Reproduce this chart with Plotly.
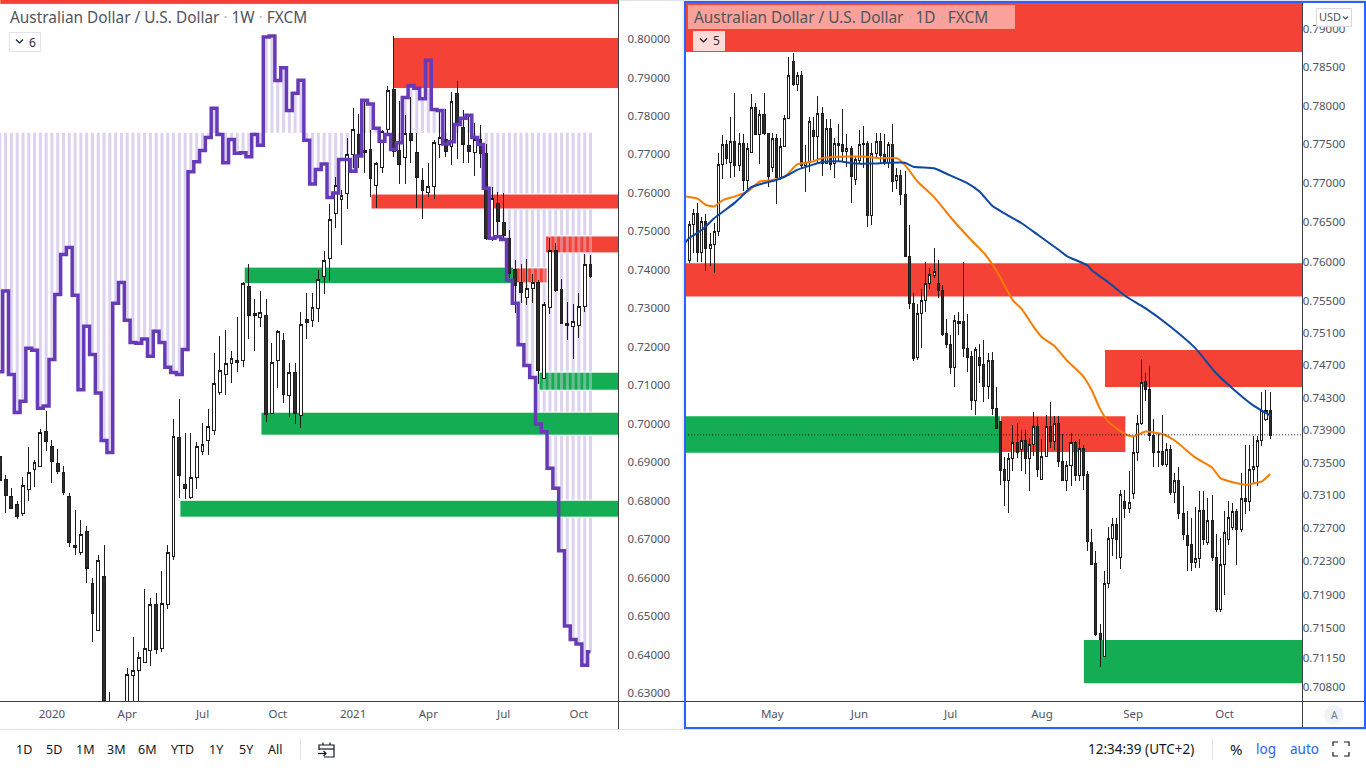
import math
import plotly.graph_objects as go

# ---------- weekly AUD/USD (left pane) ----------
wk_top = [.6914,.6856,.6812,.6791,.6840,.6873,.6899,.6977,.6980,.6941,.6897,.6873,.6812,.6684,.6712,.6721,.6585,.6645,.6603,.6250,.6130,.6200,.6348,.6358,.6391,.6416,.6530,.6530,.6532,.6664,.6967,.6964,.6841,.6860,.6941,.6946,.6993,.7105,.7139,.7157,.7170,.7165,.7365,.7357,.7287,.7290,.7282,.7159,.7240,.7217,.7133,.7133,.7258,.7271,.7303,.7375,.7425,.7531,.7620,.7594,.7699,.7764,.7752,.7711,.7713,.7677,.7759,.7867,.7869,.7711,.7754,.7755,.7705,.7633,.7616,.7730,.7744,.7738,.7838,.7859,.7769,.7724,.7739,.7739,.7703,.7585,.7573,.7523,.7482,.7402,.7367,.7351,.7367,.7367,.7310,.7451,.7451,.7349,.7261,.7266,.7304,.7414,.7414]
wk_bottom = [.6853,.6814,.6779,.6758,.6766,.6828,.6880,.6888,.6953,.6901,.6875,.6820,.6691,.6677,.6665,.6623,.6507,.6462,.6150,.5850,.5900,.6130,.6200,.6346,.6359,.6380,.6410,.6413,.6416,.6530,.6655,.6865,.6831,.6807,.6859,.6927,.6956,.6982,.7080,.7128,.7157,.7158,.7165,.7281,.7281,.7276,.7023,.7027,.7165,.7075,.7073,.7027,.7022,.7262,.7269,.7300,.7382,.7430,.7547,.7583,.7599,.7699,.7698,.7705,.7637,.7620,.7666,.7764,.7707,.7673,.7692,.7737,.7639,.7606,.7600,.7616,.7725,.7707,.7720,.7779,.7725,.7708,.7705,.7703,.7481,.7479,.7525,.7490,.7391,.7360,.7340,.7328,.7352,.7139,.7118,.7301,.7347,.7261,.7255,.7253,.7256,.7304,.7382]
wk_high = [.6926,.6866,.6834,.6799,.6861,.6939,.6905,.6986,.7033,.6957,.6934,.6890,.6820,.6776,.6749,.6734,.6598,.6658,.6684,.6302,.6200,.6260,.6366,.6445,.6406,.6570,.6546,.6561,.6617,.6684,.7012,.7064,.6976,.6976,.6952,.7002,.7038,.7184,.7228,.7243,.7189,.7277,.7368,.7415,.7323,.7345,.7323,.7210,.7243,.7236,.7158,.7158,.7290,.7340,.7340,.7399,.7449,.7570,.7640,.7607,.7743,.7821,.7805,.7841,.7763,.7679,.7763,.7878,.8008,.7839,.7802,.7849,.7755,.7664,.7677,.7737,.7815,.7817,.7861,.7891,.7815,.7802,.7782,.7776,.7727,.7616,.7603,.7599,.7503,.7426,.7415,.7428,.7389,.7373,.7316,.7483,.7469,.7376,.7316,.7311,.7340,.7441,.7438]
wk_low = [.6848,.6768,.6779,.6753,.6761,.6799,.6835,.6888,.6929,.6846,.6869,.6815,.6680,.6658,.6658,.6585,.6433,.6462,.6020,.5800,.5820,.5980,.6170,.6230,.6230,.6380,.6371,.6400,.6407,.6519,.6645,.6806,.6804,.6804,.6831,.6918,.6918,.6970,.7074,.7074,.7106,.7134,.7147,.7220,.7189,.7251,.7005,.7027,.7092,.7054,.7018,.7000,.6989,.7221,.7251,.7265,.7337,.7372,.7508,.7464,.7557,.7664,.7664,.7652,.7590,.7562,.7651,.7755,.7692,.7622,.7622,.7678,.7562,.7531,.7589,.7584,.7690,.7694,.7672,.7687,.7678,.7677,.7645,.7664,.7477,.7475,.7486,.7477,.7379,.7288,.7313,.7308,.7313,.7103,.7118,.7284,.7343,.7261,.7217,.7168,.7223,.7290,.7379]
wk_up = [0,0,0,0,1,1,1,1,0,0, 0,0,0,0,1,0,0,1,0,0, 1,1,1,1,1,1,1,0,1,1, 1,0,0,1,1,1,1,1,1,1, 1,0,1,0,0,1,0,1,1,0, 1,0,1,0,1,1,1,1,1,1, 1,1,0,0,0,1,1,1,0,0, 1,0,0,0,1,1,1,0,1,0, 0,0,1,0,0,1,0,0,0,0, 0,1,1,0,1,1,0,0,0,1, 1,1,0]
wk_step = [.7135,.7345,.7128,.7029,.7058,.7196,.7191,.7040,.7046,.7167,.7336,.7440,.7458,.7334,.7088,.7253,.7180,.7080,.6956,.6925,.7313,.7367,.7269,.7211,.7209,.7220,.7175,.7240,.7211,.7147,.7133,.7128,.7193,.7655,.7681,.7710,.7744,.7820,.7752,.7678,.7739,.7703,.7704,.7694,.7752,.7724,.8005,.8008,.7892,.7925,.7814,.7859,.7893,.7737,.7623,.7661,.7675,.7588,.7600,.7687,.7687,.7656,.7696,.7841,.7831,.7768,.7734,.7752,.7713,.7730,.7848,.7879,.7872,.7845,.7945,.7817,.7814,.7727,.7733,.7778,.7794,.7802,.7744,.7726,.7612,.7482,.7486,.7479,.7373,.7313,.7205,.7151,.7120,.6999,.6979,.6884,.6832,.6670,.6474,.6439,.6427,.6372,.6407]
wk_step_base = .7756
wk_tick_bars = [9,22,35,48,61,74,87,100]
wk_tick_text = ["2020","Apr","Jul","Oct","2021","Apr","Jul","Oct"]
wk_price_ticks = [.80,.79,.78,.77,.76,.75,.74,.73,.72,.71,.70,.69,.68,.67,.66,.65,.64,.63]
# zones: first bar, last bar, low, high
wk_red_zones = [(0,107,.8090,.8120),(67.9,107,.7871,.8004),(64.1,107,.7558,.7597),(94.2,107,.7444,.7488),(88.7,94.5,.7366,.7405)]
wk_green_zones = [(42.2,88.7,.7364,.7407),(45.1,107,.6970,.7030),(31.1,107,.6757,.6801),(93.1,107,.7087,.7134)]
wk_tinted_zones = [(94.2,102.4,.7444,.7488),(88.7,94.5,.7366,.7405),(93.1,102.4,.7087,.7134)]

# ---------- daily AUD/USD (right pane) ----------
d_top = [.7647,.7661,.7661,.7651,.7651,.7622,.7638,.7724,.7750,.7750,.7754,.7754,.7751,.7751,.7745,.7798,.7798,.7789,.7789,.7764,.7758,.7758,.7747,.7783,.7839,.7858,.7839,.7839,.7727,.7779,.7768,.7790,.7790,.7770,.7770,.7751,.7751,.7749,.7744,.7744,.7730,.7750,.7751,.7751,.7738,.7754,.7754,.7737,.7749,.7749,.7710,.7710,.7685,.7607,.7547,.7535,.7551,.7572,.7584,.7587,.7573,.7564,.7509,.7496,.7526,.7524,.7524,.7491,.7481,.7490,.7480,.7471,.7476,.7476,.7417,.7401,.7341,.7355,.7374,.7374,.7377,.7377,.7372,.7394,.7394,.7357,.7394,.7394,.7398,.7398,.7351,.7346,.7374,.7375,.7367,.7367,.7335,.7253,.7227,.7144,.7203,.7258,.7275,.7275,.7311,.7303,.7301,.7362,.7398,.7449,.7450,.7440,.7383,.7364,.7364,.7366,.7366,.7328,.7328,.7288,.7261,.7250,.7234,.7291,.7291,.7280,.7280,.7235,.7226,.7265,.7283,.7290,.7290,.7306,.7306,.7341,.7345,.7377,.7414,.7414,.7414]
d_bottom = [.7601,.7647,.7612,.7612,.7617,.7617,.7622,.7638,.7724,.7731,.7727,.7722,.7722,.7703,.7703,.7739,.7762,.7762,.7764,.7709,.7720,.7707,.7707,.7747,.7783,.7828,.7828,.7722,.7722,.7727,.7760,.7760,.7725,.7725,.7724,.7725,.7748,.7741,.7741,.7708,.7704,.7729,.7749,.7658,.7658,.7738,.7736,.7727,.7727,.7702,.7703,.7685,.7606,.7547,.7478,.7480,.7535,.7551,.7572,.7583,.7563,.7508,.7496,.7467,.7467,.7522,.7491,.7480,.7426,.7426,.7470,.7444,.7444,.7417,.7392,.7340,.7328,.7328,.7355,.7362,.7366,.7355,.7355,.7372,.7342,.7329,.7357,.7376,.7376,.7351,.7328,.7328,.7346,.7334,.7334,.7334,.7254,.7226,.7143,.7137,.7117,.7203,.7258,.7256,.7235,.7294,.7294,.7312,.7362,.7398,.7440,.7383,.7362,.7362,.7348,.7348,.7314,.7314,.7288,.7263,.7249,.7229,.7229,.7234,.7256,.7253,.7235,.7173,.7173,.7226,.7257,.7271,.7269,.7269,.7303,.7303,.7341,.7345,.7377,.7403,.7383]
d_high = [.7652,.7667,.7675,.7657,.7661,.7636,.7649,.7739,.7762,.7755,.7785,.7816,.7764,.7763,.7751,.7815,.7803,.7794,.7816,.7764,.7764,.7763,.7758,.7788,.7863,.7868,.7844,.7845,.7749,.7785,.7785,.7813,.7798,.7782,.7783,.7758,.7776,.7795,.7763,.7748,.7734,.7768,.7773,.7754,.7751,.7765,.7764,.7763,.7753,.7776,.7719,.7717,.7715,.7646,.7561,.7547,.7565,.7600,.7592,.7617,.7602,.7571,.7528,.7508,.7533,.7537,.7600,.7534,.7488,.7493,.7496,.7502,.7485,.7487,.7443,.7401,.7357,.7362,.7396,.7398,.7390,.7390,.7380,.7412,.7406,.7379,.7409,.7425,.7407,.7407,.7385,.7352,.7386,.7377,.7379,.7372,.7340,.7269,.7243,.7155,.7218,.7271,.7282,.7283,.7317,.7317,.7340,.7383,.7409,.7478,.7460,.7469,.7404,.7386,.7409,.7374,.7372,.7337,.7344,.7321,.7291,.7283,.7296,.7315,.7315,.7307,.7310,.7263,.7258,.7291,.7303,.7301,.7293,.7337,.7372,.7372,.7383,.7383,.7437,.7439,.7437]
d_low = [.7598,.7611,.7600,.7600,.7588,.7594,.7585,.7633,.7705,.7725,.7706,.7708,.7715,.7690,.7693,.7739,.7762,.7725,.7762,.7695,.7714,.7673,.7704,.7747,.7783,.7825,.7819,.7719,.7688,.7714,.7730,.7724,.7709,.7725,.7717,.7706,.7728,.7727,.7721,.7675,.7698,.7725,.7719,.7644,.7647,.7732,.7725,.7723,.7719,.7688,.7693,.7672,.7606,.7540,.7475,.7476,.7492,.7537,.7565,.7579,.7554,.7507,.7491,.7459,.7443,.7508,.7480,.7462,.7415,.7408,.7448,.7425,.7428,.7409,.7392,.7322,.7297,.7288,.7340,.7355,.7340,.7336,.7315,.7358,.7332,.7329,.7357,.7368,.7366,.7345,.7328,.7315,.7321,.7327,.7327,.7317,.7242,.7226,.7141,.7104,.7117,.7198,.7236,.7233,.7221,.7283,.7289,.7306,.7352,.7396,.7426,.7376,.7344,.7344,.7346,.7344,.7311,.7301,.7281,.7256,.7219,.7219,.7222,.7222,.7250,.7250,.7231,.7169,.7169,.7190,.7250,.7268,.7226,.7265,.7287,.7291,.7324,.7321,.7370,.7401,.7379]
d_up = [1,1,0,1,0,1,1,1,1,0, 1,0,1,0,1,1,0,1,0,0, 1,0,1,1,1,0,1,0,1,1, 0,1,0,1,0,1,0,0,1,0, 1,1,0,0,1,1,0,0,1,0, 1,0,0,0,0,1,1,1,1,1, 0,0,0,0,1,0,0,0,0,1, 0,0,1,0,0,0,0,1,1,0, 1,0,1,1,0,1,1,0,1,0, 0,1,1,0,1,0,0,0,0,0, 1,1,1,0,1,0,1,1,1,1, 0,0,0,0,0,1,0,1,0,0, 0,0,1,1,0,1,0,0,1,1, 1,1,0,1,0,1,1,1,1,1, 0]
d_blue_bars = [-1,0,3,6,8,11,13,15,18,21,24,26,30,32,36,40,44,48,52,54,59,62,67,70,73,77,80,84,89,91,96,97,101,105,110,116,122,127,131,136,140]
d_blue = [.7624,.7630,.7640,.7655,.7663,.7675,.7685,.7695,.7700,.7704,.7711,.7717,.7724,.7727,.7728,.7725,.7725,.7726,.7726,.7721,.7719,.7712,.7700,.7689,.7671,.7658,.7649,.7634,.7615,.7607,.7595,.7589,.7574,.7557,.7541,.7518,.7491,.7460,.7441,.7420,.7408]
d_orange_bars = [-1,2,4,6,8,11,14,17,20,23,26,30,32,38,42,46,50,52,55,59,63,68,71,74,78,80,83,85,88,91,95,97,99,101,105,107,110,114,117,122,126,128,131,134,138,140]
d_orange = [.7683,.7680,.7672,.7670,.7678,.7683,.7689,.7702,.7704,.7708,.7724,.7728,.7732,.7734,.7734,.7732,.7732,.7723,.7702,.7682,.7656,.7627,.7611,.7589,.7551,.7541,.7518,.7505,.7494,.7476,.7456,.7439,.7416,.7400,.7385,.7382,.7388,.7385,.7377,.7356,.7344,.7331,.7326,.7323,.7327,.7336]
d_last_price = .7384
d_tick_bars = [20,41,63,85,107,129]
d_tick_text = ["May","Jun","Jul","Aug","Sep","Oct"]
d_price_ticks = [.79,.785,.78,.775,.77,.765,.76,.755,.751,.747,.743,.739,.735,.731,.727,.723,.719,.715,.7115,.708]
d_red_zones = [(-2,149,.7870,.7990),(-2,149,.7556,.7598),(100.2,149,.7443,.7489),(75.1,105.1,.7363,.7407)]
d_green_zones = [(-2,74.9,.7362,.7407),(95.1,149,.7085,.7136)]

RED = "#F44336"
GREEN = "#15AD54"
LAV = "#DCD3EE"
INK = "#50535E"
W, H = 1366, 768
def X(p): return p / W
def Y(p): return 1 - p / H

fig = go.Figure()

def zone_trace(z, color, xa, ya, edge=True):
    s, e, lo, hi = z
    return go.Bar(x=[(s + e) / 2], width=[e - s], base=[lo], y=[hi - lo], xaxis=xa, yaxis=ya,
                  marker=dict(color=color, line=dict(color="white", width=1 if edge else 0)),
                  hoverinfo="skip", showlegend=False)

def candle(x, top, bot, hi, lo, up, xa, ya):
    opens = [b if u else t for t, b, u in zip(top, bot, up)]
    closes = [t if u else b for t, b, u in zip(top, bot, up)]
    return go.Candlestick(x=x, open=opens, high=hi, low=lo, close=closes, xaxis=xa, yaxis=ya,
                          whiskerwidth=0, hoverinfo="skip", showlegend=False,
                          increasing=dict(fillcolor="#FFFFFF", line=dict(color="#1E1E1E", width=1)),
                          decreasing=dict(fillcolor="#2D2D2D", line=dict(color="#1E1E1E", width=1)))

wk_x = list(range(len(wk_top)))
# left pane
fig.add_trace(go.Bar(x=wk_x, base=[wk_step_base] * len(wk_x), y=[v - wk_step_base for v in wk_step], width=0.52,
                     marker=dict(color=LAV, line=dict(width=0)), xaxis="x", yaxis="y",
                     hoverinfo="skip", showlegend=False))
for z in wk_red_zones:
    fig.add_trace(zone_trace(z, RED, "x", "y"))
for z in wk_green_zones:
    fig.add_trace(zone_trace(z, GREEN, "x", "y"))
for s, e, lo, hi in wk_tinted_zones:
    bars = [i for i in wk_x if s <= i <= e]
    fig.add_trace(go.Bar(x=bars, base=[lo] * len(bars), y=[hi - lo] * len(bars), width=0.52,
                         marker=dict(color="rgba(220,211,238,0.42)", line=dict(width=0)),
                         xaxis="x", yaxis="y", hoverinfo="skip", showlegend=False))
fig.add_trace(candle(wk_x, wk_top, wk_bottom, wk_high, wk_low, wk_up, "x", "y"))
fig.add_trace(go.Scatter(x=wk_x, y=wk_step, mode="lines", line=dict(color="#673AB7", width=3.5, shape="hvh"),
                         xaxis="x", yaxis="y", hoverinfo="skip", showlegend=False))

# right pane
d_x = list(range(len(d_top)))
for z in d_red_zones:
    fig.add_trace(zone_trace(z, RED, "x2", "y2", edge=False))
for z in d_green_zones:
    fig.add_trace(zone_trace(z, GREEN, "x2", "y2", edge=False))
fig.add_trace(candle(d_x, d_top, d_bottom, d_high, d_low, d_up, "x2", "y2"))
fig.add_trace(go.Scatter(x=d_orange_bars, y=d_orange, mode="lines",
                         line=dict(color="#F57C00", width=2, shape="spline", smoothing=0.5),
                         xaxis="x2", yaxis="y2", hoverinfo="skip", showlegend=False))
fig.add_trace(go.Scatter(x=d_blue_bars, y=d_blue, mode="lines",
                         line=dict(color="#0D47A1", width=2, shape="spline", smoothing=0.5),
                         xaxis="x2", yaxis="y2", hoverinfo="skip", showlegend=False))
fig.add_trace(go.Scatter(x=[-1, 147.5], y=[d_last_price] * 2, mode="lines",
                         line=dict(color="#131722", width=1, dash="1px 2px"),
                         xaxis="x2", yaxis="y2", hoverinfo="skip", showlegend=False))

tick_font = dict(family="Noto Sans", size=11.5, color=INK)
shapes = []
def line(x0, y0, x1, y1, color, width=1):
    shapes.append(dict(type="line", xref="paper", yref="paper", x0=X(x0), y0=Y(y0), x1=X(x1), y1=Y(y1),
                       line=dict(color=color, width=width)))
def rect(x0, y0, x1, y1, fill, border=None):
    shapes.append(dict(type="rect", xref="paper", yref="paper", x0=X(x0), y0=Y(y0), x1=X(x1), y1=Y(y1),
                       fillcolor=fill, line=dict(color=border or "rgba(0,0,0,0)", width=1 if border else 0)))
def poly(points, color, width=1.2, close=False):
    d = "M " + " L ".join(f"{X(a):.5f},{Y(b):.5f}" for a, b in points) + (" Z" if close else "")
    shapes.append(dict(type="path", xref="paper", yref="paper", path=d, line=dict(color=color, width=width)))

DARK = "#3C3F47"
line(0, 729.5, 1366, 729.5, "#E0E3EB")
line(683, 0, 683, 729, "#E0E3EB")
line(619, 0.5, 1366, 0.5, "#E0E3EB")
line(618.5, 0, 618.5, 729, DARK)
line(0, 701.5, 684, 701.5, DARK)
line(686, 701.5, 1364, 701.5, DARK)
line(1302.5, 3, 1302.5, 727, DARK)
rect(685, 2, 1365, 728, "rgba(0,0,0,0)", None)
shapes[-1]["line"] = dict(color="#2962FF", width=2)
# legend backgrounds and buttons
rect(688, 5, 1015, 29, "rgba(255,255,255,0.5)")
rect(9.5, 32.5, 40.5, 51.5, "#FFFFFF", "#E0E3EB")
rect(693.5, 31.5, 724.5, 50.5, "#FFDAD6", "#F3E0DE")
poly([(16, 39.5), (19.5, 43), (23, 39.5)], "#131722")
poly([(700, 38.5), (703.5, 42), (707, 38.5)], "#131722")
rect(1316.5, 8.5, 1351.5, 26.5, "rgba(255,255,255,0.92)", "#D6D8E0")
poly([(1343, 16.5), (1345.5, 19), (1348, 16.5)], INK)
# auto-scale badge
shapes.append(dict(type="circle", xref="paper", yref="paper", x0=X(1324), y0=Y(705), x1=X(1344), y1=Y(725),
                   fillcolor="#F0F3FA", line=dict(width=0)))
# toolbar separators and icons
line(300.5, 738, 300.5, 760, "#E0E3EB")
line(1212.5, 738, 1212.5, 760, "#E0E3EB")
poly([(319, 750), (319, 745), (334, 745), (334, 757), (324, 757)], "#131722")
poly([(319, 749), (334, 749)], "#131722")
poly([(323, 742.5), (323, 745)], "#131722")
poly([(330, 742.5), (330, 745)], "#131722")
poly([(318, 753.5), (326, 753.5)], "#131722")
poly([(323.5, 751), (326, 753.5), (323.5, 756)], "#131722")
for a, b, c in [((1333, 746), (1333, 742), (1338, 742)), ((1344, 742), (1349, 742), (1349, 746)),
                ((1349, 752), (1349, 756), (1344, 756)), ((1338, 756), (1333, 756), (1333, 752))]:
    poly([a, b, c], "#131722")

sep = '<span style="color:#B4B6BE"> · </span>'
ann = []
def text(x, y, s, size=12, color="#131722", anchor="center"):
    ann.append(dict(xref="paper", yref="paper", x=X(x), y=Y(y), text=s, showarrow=False, xanchor=anchor,
                    yanchor="middle", font=dict(family="Noto Sans", size=size, color=color), borderpad=0))

text(9, 17.5, f"Australian Dollar / U.S. Dollar{sep}1W{sep}FXCM", 15.4, INK, "left")
text(693, 17.5, f"Australian Dollar / U.S. Dollar{sep}1D{sep}FXCM", 15.4, INK, "left")
text(32, 42, "6", 12, "#2A2E39")
text(716, 41, "5", 12, "#2A2E39")
text(1330, 17, "USD", 11, INK)
text(1334, 715, "A", 10.5, "#787B86")
range_labels = ["1D", "5D", "1M", "3M", "6M", "YTD", "1Y", "5Y", "All"]
range_x = [24, 54, 85, 116, 147, 182, 216, 246, 275]
for lx, lab in zip(range_x, range_labels):
    text(lx, 749, lab, 12.5)
text(1141, 749, "12:34:39 (UTC+2)", 13.5)
text(1236, 749, "%", 15)
text(1266, 749, "log", 13.5, "#2962FF")
text(1304, 749, "auto", 13.5, "#2962FF")

fig.update_layout(
    width=W, height=H, margin=dict(l=0, r=0, t=0, b=0), paper_bgcolor="white", plot_bgcolor="white",
    barmode="overlay", showlegend=False, hovermode=False, shapes=shapes, annotations=ann,
    xaxis=dict(domain=[0, X(618.3)], range=[0.035, 106.8], tickvals=wk_tick_bars, ticktext=wk_tick_text,
               showgrid=False, zeroline=False, showline=False, ticks="outside", ticklen=2,
               tickcolor="rgba(0,0,0,0)", tickfont=tick_font, rangeslider=dict(visible=False), anchor="y", fixedrange=True),
    yaxis=dict(domain=[Y(701), 1.0], range=[.62791, .81014], side="right", anchor="x", tickvals=wk_price_ticks,
               ticktext=[f"{v:.5f}" for v in wk_price_ticks], showgrid=False, zeroline=False, showline=False,
               ticks="outside", ticklen=6, tickcolor="rgba(0,0,0,0)", tickfont=tick_font, fixedrange=True),
    xaxis2=dict(domain=[X(686), X(1302.5)], range=[-0.8, 147.8], tickvals=d_tick_bars, ticktext=d_tick_text,
                showgrid=False, zeroline=False, showline=False, ticks="outside", ticklen=2,
                tickcolor="rgba(0,0,0,0)", tickfont=tick_font, rangeslider=dict(visible=False), anchor="y2", fixedrange=True),
    yaxis2=dict(domain=[Y(701), Y(3)], type="log", range=[math.log10(.70640), math.log10(.79343)], side="right", anchor="x2",
                tickvals=d_price_ticks, ticktext=[f"{v:.5f}" for v in d_price_ticks], showgrid=False, zeroline=False,
                showline=False, ticks="outside", ticklen=3, ticklabelstandoff=-6, tickcolor="rgba(0,0,0,0)", tickfont=tick_font, fixedrange=True),
)

fig.write_html("out.html", config=dict(displayModeBar=False),
               post_script="document.body.style.margin='0';document.documentElement.style.overflow='hidden';"
                           "document.querySelectorAll('.boxlayer path').forEach(function(p){p.style.shapeRendering='crispEdges';});")
